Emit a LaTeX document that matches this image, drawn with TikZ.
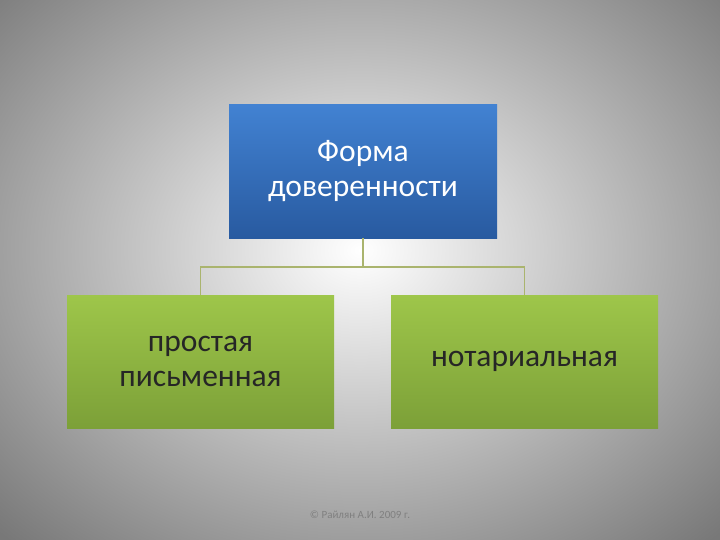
\documentclass[tikz,border=0pt]{standalone}
\usepackage{fontspec}
\setmainfont{Carlito}
\definecolor{bgout}{RGB}{120,120,120}
\definecolor{btop}{RGB}{66,130,210}
\definecolor{bbot}{RGB}{40,90,160}
\definecolor{gtop}{RGB}{158,198,74}
\definecolor{gbot}{RGB}{124,160,56}
\definecolor{conn}{RGB}{170,180,110}
\begin{document}
\begin{tikzpicture}[x=1pt,y=-1pt,
  bluebox/.style={top color=btop,bottom color=bbot,draw=none,minimum width=268pt,minimum height=133pt,text=white,align=center,font=\fontsize{31.5}{35}\selectfont},
  greenbox/.style={top color=gtop,bottom color=gbot,draw=none,minimum width=267pt,minimum height=133pt,text=black!85,align=center,font=\fontsize{31.5}{35}\selectfont},
  link/.style={draw=conn,line width=1.6pt}]
\useasboundingbox (0,0) rectangle (720,540);
\shade[inner color=white,outer color=bgout] (-150,-150) rectangle (870,650);
\node[bluebox] (top) at (363,171.5) {Форма\\доверенности};
\node[greenbox] (left) at (200.5,361.5) {простая\\письменная};
\node[greenbox] (right) at (524.5,361.5) {нотариальная};
\coordinate (j) at (363,267);
\draw[link] (top.south) -- (j);
\draw[link] (left.north) |- (j) -| (right.north);
\node[text=black!50,font=\fontsize{11}{13}\selectfont] (foot) at (360,515) {© Райлян А.И. 2009 г.};
\end{tikzpicture}
\end{document}
